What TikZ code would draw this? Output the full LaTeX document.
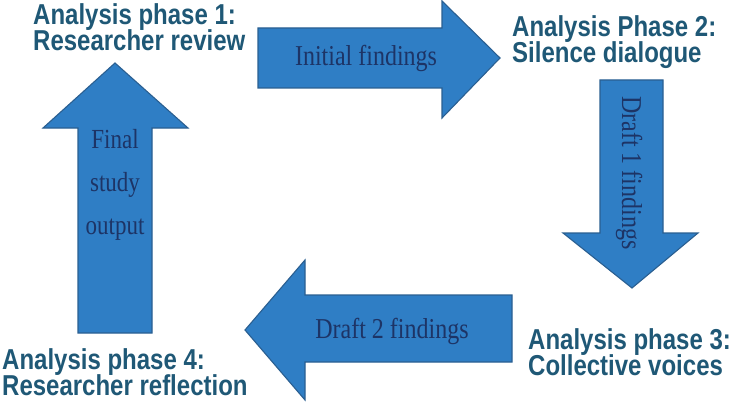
\documentclass[tikz,border=0pt]{standalone}
\usepackage{fontspec}
\setmainfont{Liberation Serif}
\newfontfamily\lsans{Liberation Sans}
\newcommand\vst[1]{\scalebox{1}[1.2]{#1}}
\definecolor{arrowfill}{HTML}{2F7EC5}
\definecolor{arrowline}{HTML}{2A5F91}
\definecolor{labelcol}{HTML}{1F5876}
\definecolor{arrowtext}{HTML}{1D3466}
\tikzset{
  fatarrow/.style={fill=arrowfill, draw=arrowline, line width=1.1pt, line join=miter},
  phaselabel/.style={inner sep=0pt, anchor=north west, text=labelcol, font=\lsans\bfseries\fontsize{24}{20}\selectfont},
  arrowlabel/.style={inner sep=0pt, text=arrowtext, font=\fontsize{24}{20}\selectfont},
}
\begin{document}
\begin{tikzpicture}[x=1pt,y=-1pt]
\useasboundingbox (0,0) rectangle (734,404);
% arrows
\draw[fatarrow] (258,28) -- (442,28) -- (442,1) -- (500,58) -- (442,118) -- (442,88) -- (258,88) -- cycle;
\draw[fatarrow] (600,80) -- (663,80) -- (663,233) -- (698,233) -- (632,288) -- (563,233) -- (600,233) -- cycle;
\draw[fatarrow] (512,295) -- (305,295) -- (305,260) -- (245,330) -- (305,400) -- (305,362) -- (512,362) -- cycle;
\draw[fatarrow] (78,333) -- (78,128) -- (43,128) -- (115,63) -- (188,128) -- (152,128) -- (152,333) -- cycle;
% phase labels
\node[phaselabel] (p1) at (33,3) {\vst{\begin{tabular}{@{}l@{}}Analysis phase 1:\\[-1pt]Researcher review\end{tabular}}};
\node[phaselabel] (p2) at (512,15) {\vst{\begin{tabular}{@{}l@{}}Analysis Phase 2:\\[-1pt]Silence dialogue\end{tabular}}};
\node[phaselabel] (p3) at (528,328) {\vst{\begin{tabular}{@{}l@{}}Analysis phase 3:\\[-1pt]Collective voices\end{tabular}}};
\node[phaselabel] (p4) at (2,348) {\vst{\begin{tabular}{@{}l@{}}Analysis phase 4:\\[-1pt]Researcher reflection\end{tabular}}};
% arrow texts
\node[arrowlabel, anchor=base] (t1) at (366,66) {\vst{Initial findings}};
\node[arrowlabel, anchor=base, rotate=-90] (t2) at (622,173) {\vst{Draft 1 findings}};
\node[arrowlabel, anchor=base] (t3) at (392,338) {\vst{Draft 2 findings}};
\node[arrowlabel, anchor=center, font=\fontsize{23}{36}\selectfont] (t4) at (115,183) {\vst{\begin{tabular}{@{}c@{}}Final\\study\\output\end{tabular}}};
\end{tikzpicture}
\end{document}
